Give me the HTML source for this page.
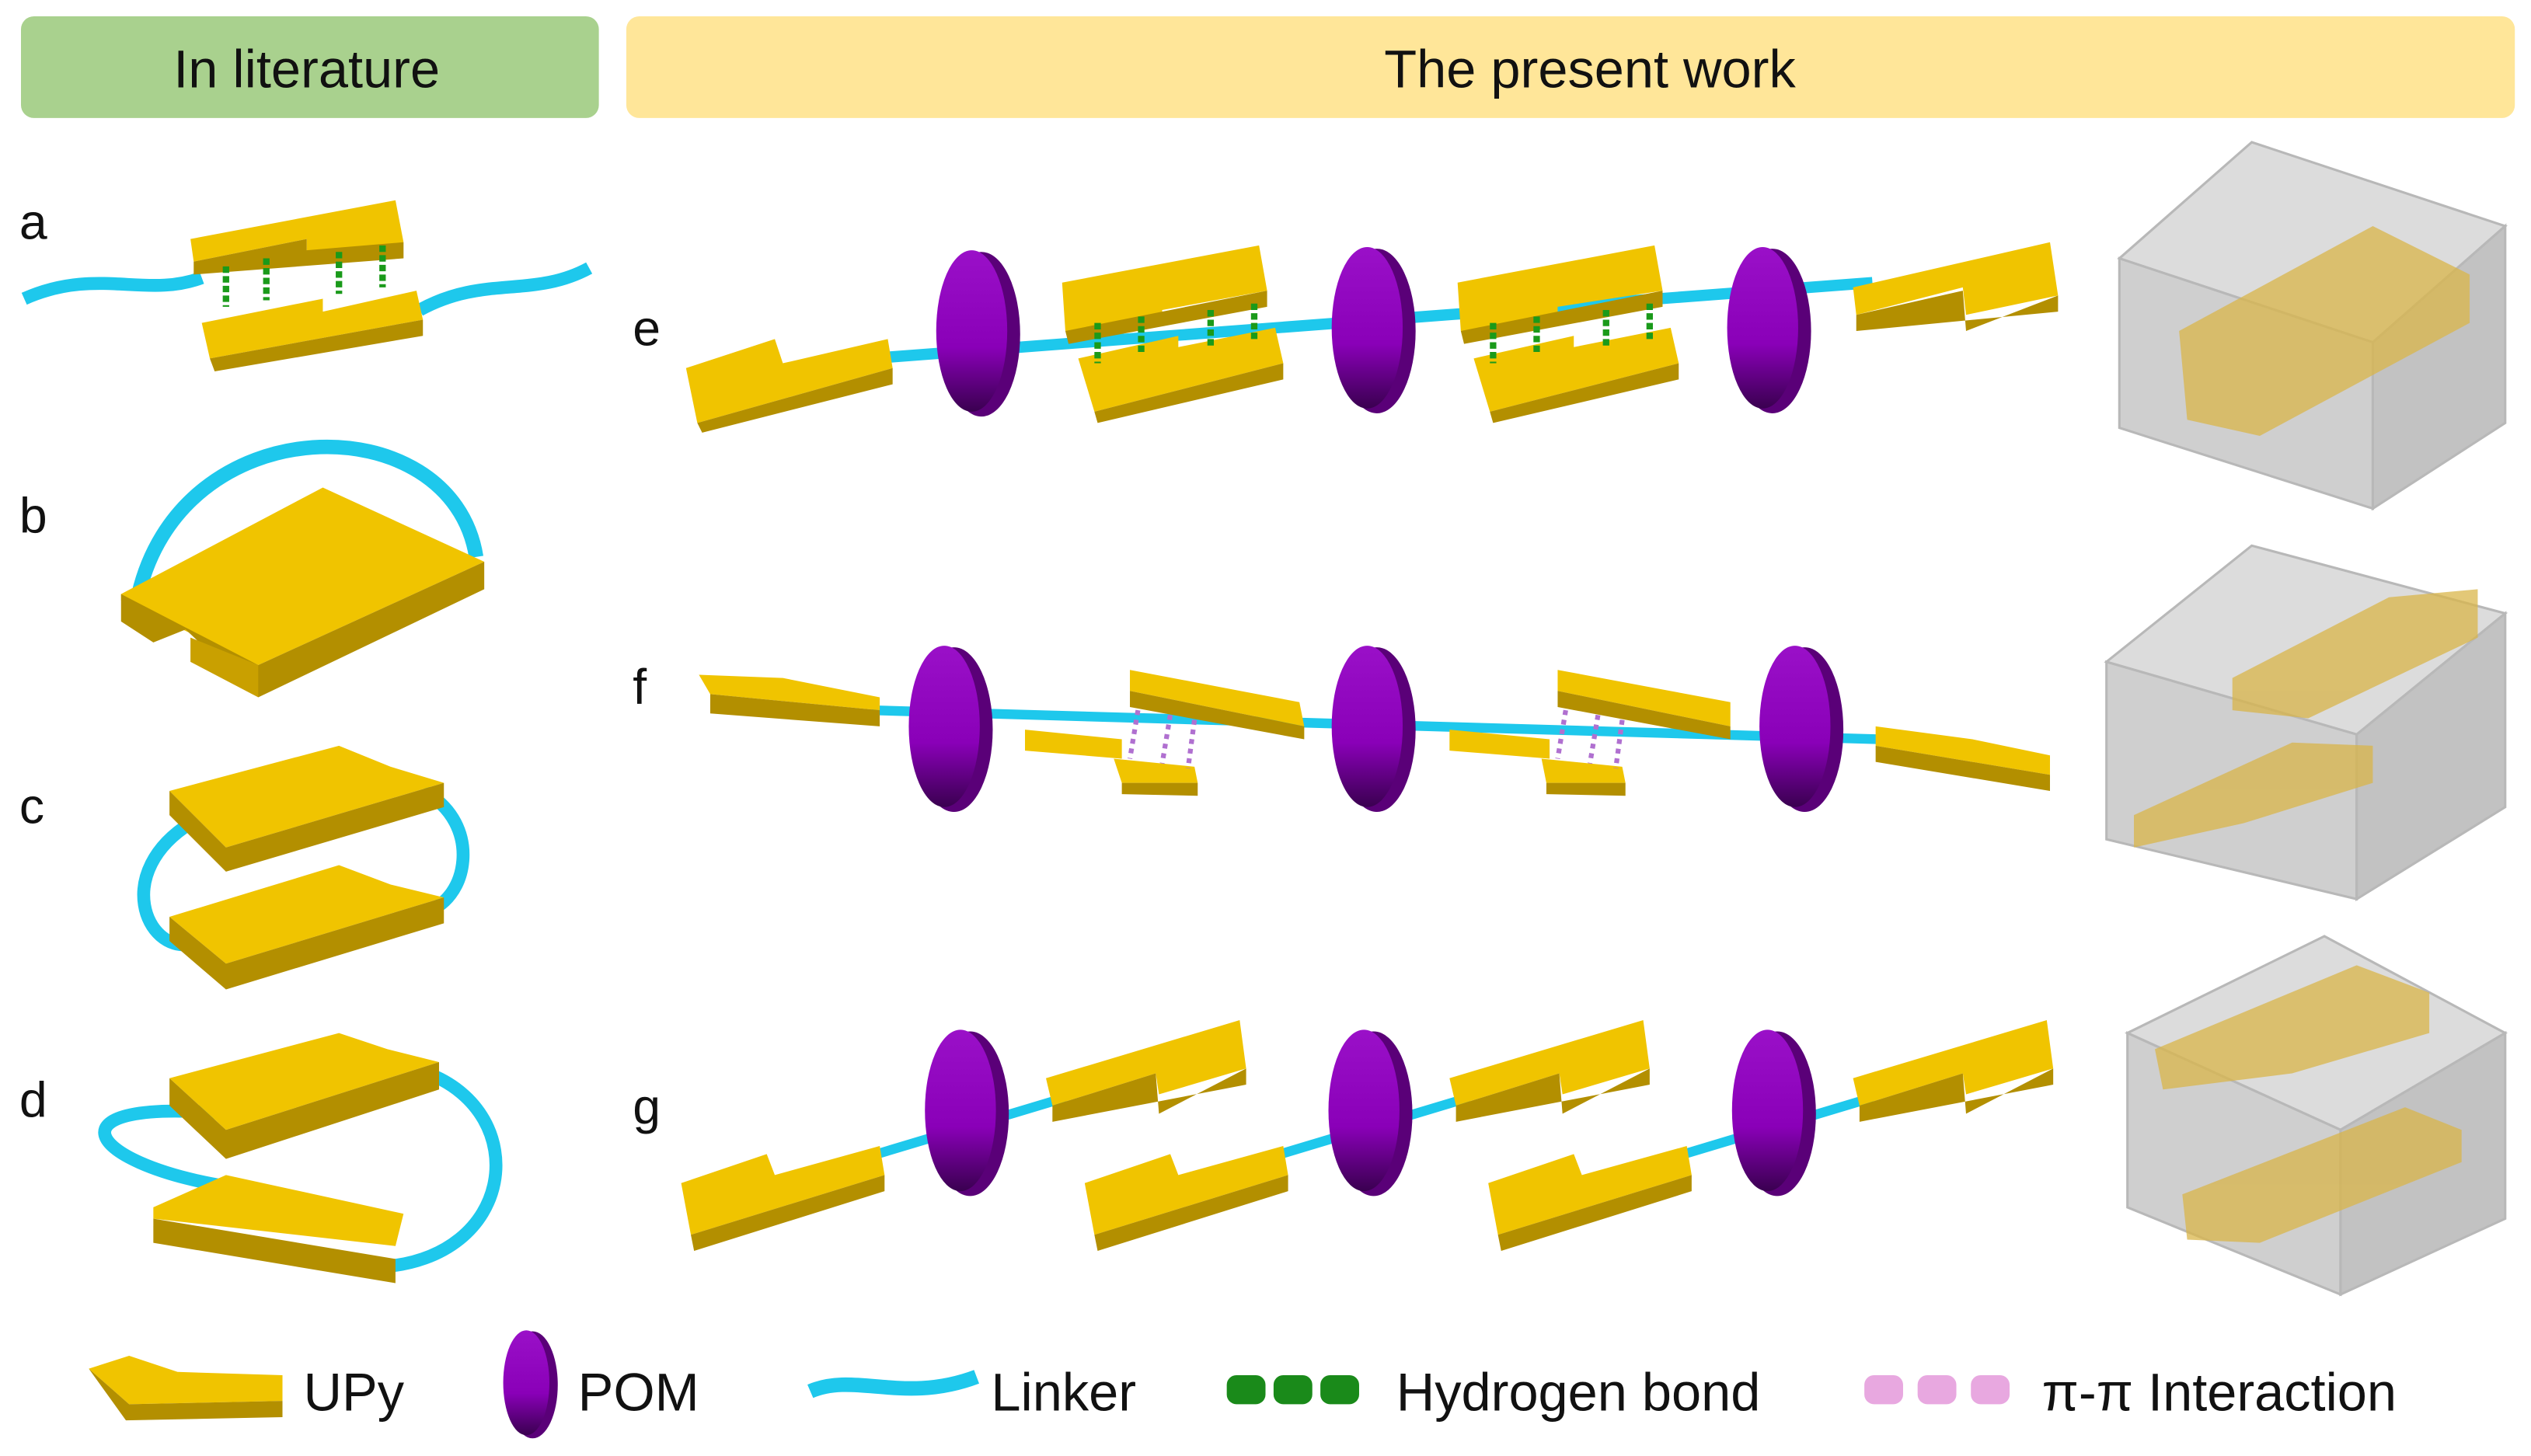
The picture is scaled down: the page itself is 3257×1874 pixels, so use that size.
<!DOCTYPE html>
<html><head><meta charset="utf-8"><style>
html,body{margin:0;padding:0;background:#fff;}
svg{display:block;}
text{font-family:"Liberation Sans",Arial,sans-serif;}
</style></head><body>
<svg width="3257" height="1874" viewBox="0 0 1568 902" xmlns="http://www.w3.org/2000/svg">
<defs>
<linearGradient id="pom" x1="0" y1="0" x2="0" y2="1"><stop offset="0" stop-color="#9a10c8"/><stop offset="0.6" stop-color="#8a00b8"/><stop offset="1" stop-color="#3a0050"/></linearGradient>
<g id="pomg">
<ellipse cx="3" cy="0" rx="24" ry="51" fill="#5a0078"/>
<ellipse cx="-3" cy="-2" rx="22" ry="50" fill="url(#pom)"/>
</g>
</defs>
<rect x="13" y="10" width="358" height="63" rx="8" fill="#a9d18e"/>
<rect x="388" y="10" width="1170" height="63" rx="8" fill="#ffe699"/>
<text x="190" y="54" font-size="33" text-anchor="middle" fill="#111">In literature</text>
<text x="985" y="54" font-size="33" text-anchor="middle" fill="#111">The present work</text>
<g font-size="31" fill="#111">
<text x="12" y="148">a</text><text x="12" y="330">b</text><text x="12" y="510">c</text><text x="12" y="692">d</text>
<text x="392" y="214">e</text><text x="392" y="436">f</text><text x="392" y="696">g</text>
</g>
<!-- a -->
<path d="M15 185 C60 165 90 185 125 172" stroke="#1ec8ec" stroke-width="8" fill="none"/>
<path d="M260 192 C300 170 330 185 365 166" stroke="#1ec8ec" stroke-width="8" fill="none"/>
<polygon points="118,148 245,124 250,150 190,162 190,148 120,162" fill="#f0c400"/>
<polygon points="120,162 190,148 190,155 250,150 250,160 120,170" fill="#b38f00"/>
<polygon points="125,200 200,185 200,193 258,180 262,198 130,222" fill="#f0c400"/>
<polygon points="130,222 262,198 262,208 133,230" fill="#b38f00"/>
<g stroke="#1a9a1a" stroke-width="4" stroke-dasharray="4,2"><line x1="140" y1="165" x2="140" y2="190"/><line x1="165" y1="160" x2="165" y2="186"/><line x1="210" y1="156" x2="210" y2="182"/><line x1="237" y1="152" x2="237" y2="178"/></g>
<!-- b -->
<path d="M85 372 C110 250 280 250 295 345" stroke="#1ec8ec" stroke-width="9" fill="none"/>
<polygon points="75,368 200,302 300,348 160,412 75,372" fill="#f0c400"/>
<polygon points="75,368 75,385 95,398 115,390 160,432 300,365 300,348 160,412" fill="#b38f00"/>
<polygon points="118,395 160,412 160,432 118,410" fill="#c9a000"/>
<!-- c -->
<path d="M118 510 C70 540 90 590 118 585" stroke="#1ec8ec" stroke-width="8" fill="none"/>
<path d="M262 490 C300 510 290 560 262 565" stroke="#1ec8ec" stroke-width="8" fill="none"/>
<polygon points="105,490 210,462 242,475 275,485 140,525" fill="#f0c400"/>
<polygon points="105,490 105,505 140,540 275,500 275,485 140,525" fill="#b38f00"/>
<polygon points="105,568 210,536 242,548 275,556 140,597" fill="#f0c400"/>
<polygon points="105,568 105,583 140,613 275,572 275,556 140,597" fill="#b38f00"/>
<!-- d -->
<path d="M140 690 C30 680 50 720 140 735" stroke="#1ec8ec" stroke-width="8" fill="none"/>
<path d="M265 665 C330 690 320 780 235 785" stroke="#1ec8ec" stroke-width="8" fill="none"/>
<polygon points="105,668 210,640 240,650 272,658 140,700" fill="#f0c400"/>
<polygon points="105,668 105,685 140,718 272,675 272,658 140,700" fill="#b38f00"/>
<polygon points="95,748 140,728 250,752 245,772 95,755" fill="#f0c400"/>
<polygon points="95,755 245,780 245,795 95,770" fill="#b38f00"/>
<!-- e row -->
<line x1="540" y1="222" x2="1160" y2="175" stroke="#1ec8ec" stroke-width="7"/>
<polygon points="425,228 480,210 485,225 550,210 553,228 432,262" fill="#f0c400"/>
<polygon points="432,262 553,228 553,238 435,268" fill="#b38f00"/>
<use href="#pomg" x="605" y="207"/>
<polygon points="658,175 780,152 785,180 720,192 720,200 660,205" fill="#f0c400"/>
<polygon points="660,205 785,180 785,190 662,213" fill="#b38f00"/>
<polygon points="668,222 730,208 730,215 790,203 795,225 678,255" fill="#f0c400"/>
<polygon points="678,255 795,225 795,235 680,262" fill="#b38f00"/>
<use href="#pomg" x="850" y="205"/>
<polygon points="903,175 1025,152 1030,180 965,190 965,198 905,205" fill="#f0c400"/>
<polygon points="905,205 1030,180 1030,190 907,213" fill="#b38f00"/>
<polygon points="913,222 975,208 975,215 1035,203 1040,225 923,255" fill="#f0c400"/>
<polygon points="923,255 1040,225 1040,235 925,262" fill="#b38f00"/>
<use href="#pomg" x="1095" y="205"/>
<polygon points="1148,178 1270,150 1275,183 1218,195 1216,178 1150,195" fill="#f0c400"/>
<polygon points="1150,195 1216,180 1218,205 1275,183 1275,193 1150,205" fill="#b38f00"/>
<g stroke="#1a9a1a" stroke-width="4" stroke-dasharray="4,2"><line x1="680" y1="200" x2="680" y2="225"/><line x1="707" y1="196" x2="707" y2="220"/><line x1="750" y1="192" x2="750" y2="215"/><line x1="777" y1="188" x2="777" y2="210"/><line x1="925" y1="200" x2="925" y2="225"/><line x1="952" y1="196" x2="952" y2="220"/><line x1="995" y1="192" x2="995" y2="215"/><line x1="1022" y1="188" x2="1022" y2="210"/></g>
<!-- f row -->
<line x1="540" y1="440" x2="1165" y2="458" stroke="#1ec8ec" stroke-width="6"/>
<polygon points="433,418 485,420 545,432 545,440 440,430" fill="#f0c400"/>
<polygon points="440,430 545,440 545,450 440,442" fill="#b38f00"/>
<use href="#pomg" x="588" y="452"/>
<polygon points="635,452 695,458 695,470 635,465" fill="#f0c400"/>
<polygon points="700,415 805,435 808,450 700,428" fill="#f0c400"/>
<polygon points="700,428 808,450 808,458 700,438" fill="#b38f00"/>
<polygon points="690,470 740,475 742,485 695,485" fill="#f0c400"/>
<polygon points="695,485 742,485 742,493 695,492" fill="#b38f00"/>
<use href="#pomg" x="850" y="452"/>
<polygon points="898,452 960,458 960,470 898,465" fill="#f0c400"/>
<polygon points="965,415 1072,435 1072,450 965,428" fill="#f0c400"/>
<polygon points="965,428 1072,450 1072,458 965,438" fill="#b38f00"/>
<polygon points="955,470 1005,475 1007,485 958,485" fill="#f0c400"/>
<polygon points="958,485 1007,485 1007,493 958,492" fill="#b38f00"/>
<use href="#pomg" x="1115" y="452"/>
<polygon points="1162,450 1222,458 1270,468 1270,480 1162,462" fill="#f0c400"/>
<polygon points="1162,462 1270,480 1270,490 1162,472" fill="#b38f00"/>
<g stroke="#b070d0" stroke-width="3" stroke-dasharray="3,3"><line x1="705" y1="440" x2="700" y2="470"/><line x1="725" y1="443" x2="720" y2="473"/><line x1="740" y1="446" x2="736" y2="476"/><line x1="970" y1="440" x2="965" y2="470"/><line x1="990" y1="443" x2="985" y2="473"/><line x1="1005" y1="446" x2="1001" y2="476"/></g>
<!-- g row -->
<g stroke="#1ec8ec" stroke-width="6"><line x1="540" y1="716" x2="660" y2="680"/><line x1="790" y1="716" x2="910" y2="680"/><line x1="1040" y1="716" x2="1160" y2="680"/></g>
<g id="gpair">
<polygon points="422,733 475,715 480,728 545,710 548,728 428,765" fill="#f0c400"/>
<polygon points="428,765 548,728 548,738 430,775" fill="#b38f00"/>
<use href="#pomg" x="598" y="690"/>
<polygon points="648,668 768,632 772,662 718,678 716,665 652,685" fill="#f0c400"/>
<polygon points="652,685 716,665 718,690 772,662 772,672 652,695" fill="#b38f00"/>
</g>
<use href="#gpair" x="250" y="0"/>
<use href="#gpair" x="500" y="0"/>
<!-- boxes (3 faces each) -->
<g stroke="#b8b8b8" stroke-width="1.5">
<polygon points="1313,160 1395,88 1552,140 1470,212" fill="#dcdcdc"/>
<polygon points="1313,160 1470,212 1470,315 1313,265" fill="#cfcfcf"/>
<polygon points="1470,212 1552,140 1552,262 1470,315" fill="#c2c2c2"/>
<polygon points="1305,410 1395,338 1552,380 1460,455" fill="#dcdcdc"/>
<polygon points="1305,410 1460,455 1460,557 1305,520" fill="#cfcfcf"/>
<polygon points="1460,455 1552,380 1552,500 1460,557" fill="#c2c2c2"/>
<polygon points="1318,640 1440,580 1552,640 1450,700" fill="#dcdcdc"/>
<polygon points="1318,640 1450,700 1450,802 1318,748" fill="#cfcfcf"/>
<polygon points="1450,700 1552,640 1552,755 1450,802" fill="#c2c2c2"/>
</g>
<g fill="#d9b54a" opacity="0.75">
<polygon points="1350,205 1470,140 1530,170 1530,200 1400,270 1355,260"/>
<polygon points="1383,420 1480,370 1535,365 1535,395 1430,445 1383,440"/>
<polygon points="1322,505 1420,460 1470,462 1470,485 1390,510 1322,525"/>
<polygon points="1335,650 1460,598 1505,615 1505,640 1420,665 1340,675"/>
<polygon points="1352,740 1490,686 1525,700 1525,720 1400,770 1355,768"/>
</g>
<!-- legend -->
<polygon points="55,848 80,840 110,850 175,852 175,868 80,870" fill="#f0c400"/>
<polygon points="55,848 80,870 175,868 175,878 78,880" fill="#b38f00"/>
<text x="188" y="874" font-size="33" fill="#111">UPy</text>
<g transform="translate(328 858) scale(0.65)"><use href="#pomg" x="0" y="0"/></g>
<text x="358" y="874" font-size="33" fill="#111">POM</text>
<path d="M502 862 C530 850 560 870 605 853" stroke="#1ec8ec" stroke-width="9" fill="none"/>
<text x="614" y="874" font-size="33" fill="#111">Linker</text>
<g fill="#1a8a1a"><rect x="760" y="852" width="24" height="18" rx="6"/><rect x="789" y="852" width="24" height="18" rx="6"/><rect x="818" y="852" width="24" height="18" rx="6"/></g>
<text x="865" y="874" font-size="33" fill="#111">Hydrogen  bond</text>
<g fill="#e8a8e0"><rect x="1155" y="852" width="24" height="18" rx="6"/><rect x="1188" y="852" width="24" height="18" rx="6"/><rect x="1221" y="852" width="24" height="18" rx="6"/></g>
<text x="1265" y="874" font-size="33" fill="#111">π-π Interaction</text>
</svg>
</body></html>
